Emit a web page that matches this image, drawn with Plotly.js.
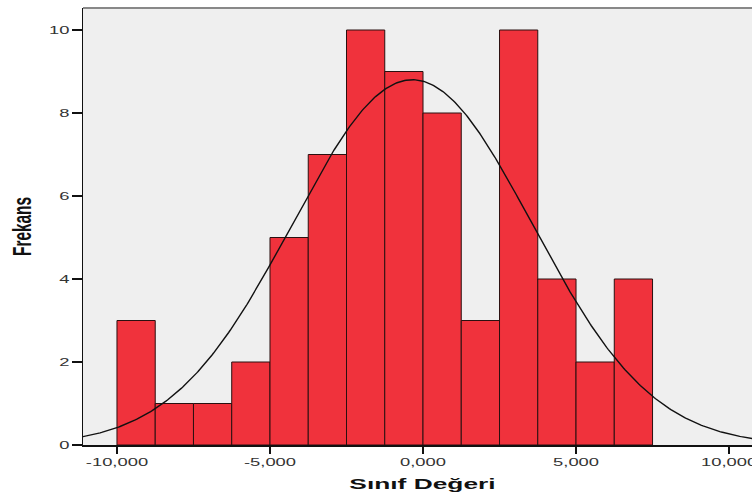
<!DOCTYPE html>
<html><head><meta charset="utf-8">
<script src="https://cdn.plot.ly/plotly-3.0.1.min.js"></script>
<style>
body{margin:0;padding:0;background:#fff}#c{width:752px;height:498px}
#c g.xtick{transform-box:fill-box;transform-origin:center;transform:scaleX(1.75)}
#c g.ytick{transform-box:fill-box;transform-origin:right center;transform:scaleX(1.75)}
#c g.g-xtitle{transform-box:fill-box;transform-origin:center;transform:translateX(5px) scaleX(1.88)}
#c g.g-ytitle{transform-box:fill-box;transform-origin:center;transform:scaleX(1.65)}
</style>
</head><body><div id="c"></div>
<script>
// Histogram bins (class midpoints) and frequencies
const binMids = [-9375,-8125,-6875,-5625,-4375,-3125,-1875,-625,625,1875,3125,4375,5625,6875];
const counts  = [3,1,1,2,5,7,10,9,8,3,10,4,2,4];
const binWidth = 1250;
// Fitted normal curve parameters
const curveMean = -350;
const curveSd = 3910;
const nTotal = 69;
// Axis ticks
const xTickVals = [-10000,-5000,0,5000,10000];
const xTickText = ["-10,000","-5,000","0,000","5,000","10,000"];
const yTickVals = [0,2,4,6,8,10];

const cx = [], cy = [];
for (let x = -11200; x <= 10800; x += 50) {
  const z = (x - curveMean) / curveSd;
  cx.push(x);
  cy.push(nTotal * binWidth / (curveSd * Math.sqrt(2*Math.PI)) * Math.exp(-0.5*z*z));
}

const traces = [
  {type:'bar', x: binMids, y: counts, width: binWidth,
   marker:{color:'#f0323c', line:{color:'#2a1010', width:1}}, hoverinfo:'x+y'},
  {type:'scatter', mode:'lines', x: cx, y: cy, line:{color:'#111', width:1.4}, hoverinfo:'skip'}
];

const layout = {
  width:752, height:498,
  margin:{l:83, r:0, t:8, b:53},
  paper_bgcolor:'#ffffff', plot_bgcolor:'#efefef',
  showlegend:false, bargap:0,
  font:{family:'Liberation Sans, Arial, sans-serif', color:'#222'},
  xaxis:{range:[-11110,10750], tickvals:xTickVals, ticktext:xTickText,
    showgrid:false, zeroline:false, showline:true, linecolor:'#111', linewidth:1.5,
    ticks:'outside', ticklen:7, tickcolor:'#111', tickwidth:1.5,
    tickfont:{size:10.5, color:'#333'},
    title:{text:'<b>Sınıf Değeri</b>', font:{size:14, color:'#111'}, standoff:12}},
  yaxis:{range:[0,10.53], tickvals:yTickVals,
    showgrid:false, zeroline:false, showline:true, linecolor:'#111', linewidth:1.5,
    ticks:'outside', ticklen:10, tickcolor:'#111', tickwidth:1.5,
    tickfont:{size:10.5, color:'#333'},
    title:{text:'<b>Frekans</b>', font:{size:15.4, color:'#111'}, standoff:26}},
  shapes:[{type:'line', xref:'paper', yref:'paper', x0:0, x1:1, y0:1, y1:1, line:{color:'#888', width:2}}]
};
Plotly.newPlot('c', traces, layout, {displayModeBar:false, staticPlot:true});
</script></body></html>
